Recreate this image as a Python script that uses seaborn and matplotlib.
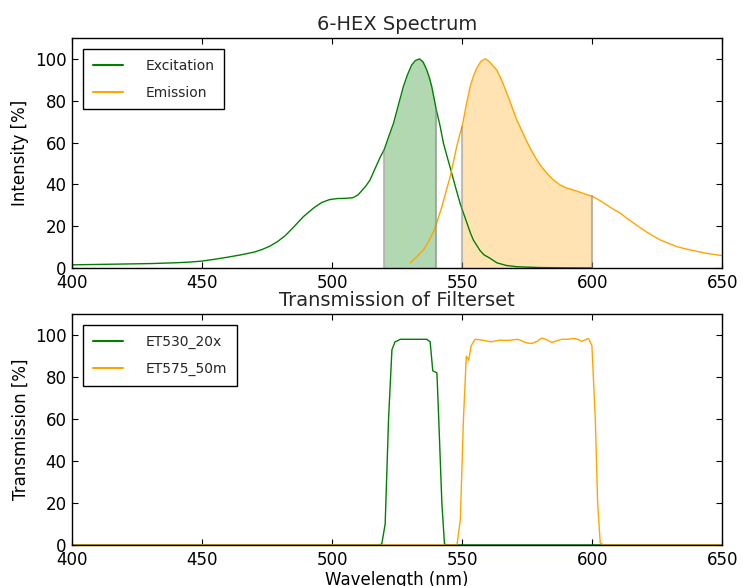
import numpy as np
import pandas as pd
import matplotlib
matplotlib.use("Agg")
import matplotlib.pyplot as plt
import seaborn as sns

# ---- data ----
exc_wl = [400, 410, 420, 430, 440, 445, 450, 455, 460, 465, 470, 473, 476, 479, 482, 485,
          489, 493, 496, 499, 502, 505, 508, 510, 512.8, 514.6, 516.5, 518.5, 520, 521.8,
          523.6, 525.5, 527.4, 529, 530.6, 532, 533.6, 535, 536.4, 537.4, 538.3, 539.3, 540,
          541.5, 542.8, 544.5, 546, 547.6, 549.2, 550, 551, 553.1, 554.3, 556.9, 558.5,
          560.8, 563.3, 567, 571, 580, 590, 600]
exc_int = [1.5, 1.7, 1.9, 2.1, 2.5, 2.8, 3.3, 4.2, 5.2, 6.3, 7.6, 8.8, 10.4, 12.6, 15.5, 19.3,
           24.6, 28.8, 31.3, 32.7, 33.2, 33.3, 33.6, 35.0, 38.9, 42.1, 47.5, 53.0, 56.5, 63.0,
           69.2, 78.0, 86.8, 92.5, 97.1, 99.2, 100.0, 98.5, 94.7, 91.0, 86.8, 80.5, 76.0,
           68.0, 59.7, 52.0, 45.3, 38.0, 31.0, 28.0, 24.5, 17.0, 13.4, 8.3, 6.2,
           4.6, 2.5, 1.2, 0.6, 0.2, 0.05, 0.0]

em_wl = [530, 532.5, 535.1, 537, 539, 540.6, 542.2, 543.8, 545.4, 546.7, 547.9, 549, 550,
         551.5, 553.1, 554.4, 555.6, 557.2, 558.8, 560.2, 561.8, 563.3, 565.3, 567.2, 569.1,
         571, 573, 574.9, 576.8, 578.7, 580.6, 582.6, 585, 587.7, 590, 592.8, 594.7, 596.7,
         598.5, 600, 602.8, 605.6, 608, 610.8, 613.3, 616.5, 619.7, 623, 626.2, 629.5, 632.6,
         636, 639, 644, 650]
em_int = [2.5, 5.3, 8.6, 12.5, 17.4, 23.0, 29.3, 36.5, 43.7, 51.0, 58.0, 63.5, 67.6,
          77.5, 86.8, 92.0, 95.5, 98.8, 100.0, 99.0, 96.8, 94.7, 89.5, 83.6, 77.2,
          70.8, 65.5, 60.4, 55.8, 51.7, 48.3, 45.3, 42.2, 39.7, 38.3, 37.3, 36.5, 35.6,
          34.9, 34.3, 32.4, 30.1, 28.2, 26.2, 23.8, 21.0, 18.2, 15.6, 13.4, 11.7, 10.2,
          9.1, 8.3, 7.0, 5.9]

f1_wl = [400, 518, 519.1, 520.4, 521.7, 523, 524.2, 525.5, 526.2, 530, 536.4, 537.7, 538.7,
         540.3, 541, 542.2, 543.2, 544.2, 650]
f1_tr = [0, 0, 0.5, 10, 60, 93, 96.8, 97.5, 98, 98, 98, 96.8, 83,
         82, 60, 20, 0.5, 0, 0]

f2_wl = [400, 548, 549.3, 550.5, 551.6, 552.5, 553.5, 555, 556.5, 558.2, 560, 561.4, 563, 564.6,
         566, 567.9, 570, 571.1, 572.5, 573.6, 575.2, 576.8, 578.8, 580.6, 582.5, 584.5,
         586.5, 588.3, 590.5, 592.8, 594.5, 596, 597.5, 598.6, 599.9, 601.2, 602.1, 603.1,
         604.4, 650]
f2_tr = [0, 0, 12, 60, 90, 88, 95, 98, 97.8, 97.5, 97, 96.8, 97.3, 97.6,
         97.5, 97.5, 97.8, 98, 97.5, 96.8, 96.2, 96, 97, 98.6, 97.8, 96.5,
         97.3, 98, 98, 98.4, 98, 97, 97.8, 98.4, 95, 60, 20, 1,
         0, 0]

exc_band = (520, 540)
em_band = (550, 600)

# ---- style ----
sns.set_style("white")
plt.rcParams.update({
    "font.family": ["DejaVu Sans"],
    "xtick.direction": "in", "ytick.direction": "in",
    "xtick.top": True, "ytick.right": True,
    "xtick.bottom": True, "ytick.left": True,
    "xtick.major.size": 4, "ytick.major.size": 4,
    "xtick.major.width": 0.8, "ytick.major.width": 0.8,
    "axes.edgecolor": "black", "axes.linewidth": 1.0,
    "xtick.labelsize": 12, "ytick.labelsize": 12,
    "xtick.color": "black", "ytick.color": "black",
    "axes.labelcolor": "black",
})

fig = plt.figure(figsize=(7.43, 5.86), dpi=100)
ax1 = fig.add_axes([0.097, 0.5427, 0.875, 0.3925])
ax2 = fig.add_axes([0.097, 0.070, 0.875, 0.394])

exc_df = pd.DataFrame({"wl": exc_wl, "val": exc_int})
em_df = pd.DataFrame({"wl": em_wl, "val": em_int})

sns.lineplot(data=exc_df, x="wl", y="val", ax=ax1, color="green", lw=1.0, label="Excitation",
             sort=False)
sns.lineplot(data=em_df, x="wl", y="val", ax=ax1, color="orange", lw=1.0, label="Emission",
             sort=False)

def band_fill(ax, wl, val, band, color):
    wl = np.asarray(wl, float); val = np.asarray(val, float)
    m = (wl >= band[0]) & (wl <= band[1])
    ax.fill_between(wl[m], 0, val[m], color=color, alpha=0.3, lw=0)
    for b in band:
        v = np.interp(b, wl, val)
        ax.plot([b, b], [0, v], color="gray", alpha=0.5, lw=1.5)

band_fill(ax1, exc_wl, exc_int, exc_band, "green")
band_fill(ax1, em_wl, em_int, em_band, "orange")

f1_df = pd.DataFrame({"wl": f1_wl, "val": f1_tr})
f2_df = pd.DataFrame({"wl": f2_wl, "val": f2_tr})
sns.lineplot(data=f1_df, x="wl", y="val", ax=ax2, color="green", lw=1.0, label="ET530_20x",
             sort=False)
sns.lineplot(data=f2_df, x="wl", y="val", ax=ax2, color="orange", lw=1.0, label="ET575_50m",
             sort=False)

for ax in (ax1, ax2):
    ax.set_xlim(400, 650)
    ax.set_ylim(0, 110)
    ax.set_xticks([400, 450, 500, 550, 600, 650])
    ax.set_yticks([0, 20, 40, 60, 80, 100])
    ax.tick_params(axis="both", pad=4)
    leg = ax.legend(loc="upper left", fontsize=10, handlelength=2.2, handletextpad=1.6,
                    borderpad=0.7, labelspacing=0.95, fancybox=False, framealpha=1,
                    borderaxespad=0.78)
    leg.get_frame().set_edgecolor("black")
    leg.get_frame().set_linewidth(1.0)
    for line in leg.get_lines():
        line.set_linewidth(1.5)

ax1.set_title("6-HEX Spectrum", fontsize=14, pad=6)
ax1.set_xlabel("")
ax1.set_ylabel("Intensity [%]", fontsize=12)
ax2.set_title("Transmission of Filterset", fontsize=14, pad=6)
ax2.set_xlabel("Wavelength (nm)", fontsize=12, labelpad=2)
ax2.set_ylabel("Transmission [%]", fontsize=12)

fig.savefig("out.png", dpi=100)
